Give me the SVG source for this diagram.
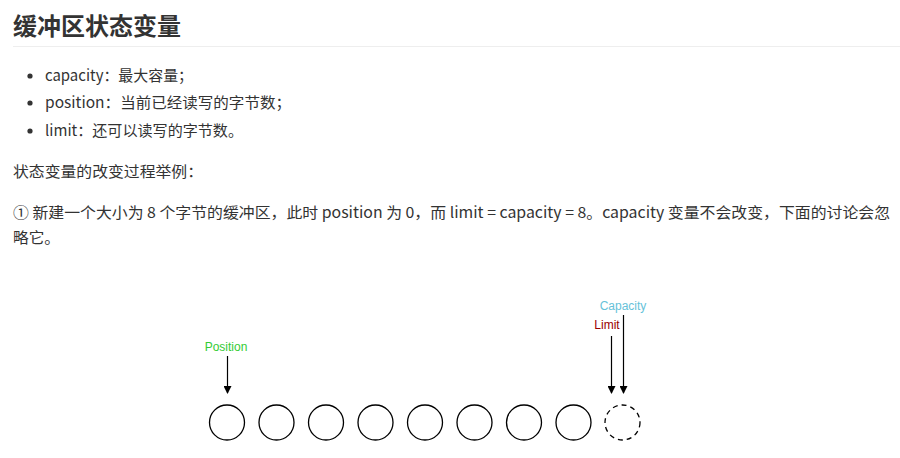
<svg xmlns="http://www.w3.org/2000/svg" width="900" height="458" viewBox="0 0 900 458">
<style>
.t{font-family:"Noto Sans CJK SC","Liberation Sans",sans-serif;font-size:15px;fill:#333}
.c{fill:#fff;stroke:#000;stroke-width:1.3}
.lbl{font-family:"Liberation Sans",sans-serif;font-size:12px;text-anchor:middle}
.ar{stroke:#000;stroke-width:1.2;marker-end:url(#ah)}
</style>
<defs><marker id="ah" markerWidth="8" markerHeight="8" refX="7" refY="4" orient="auto" markerUnits="userSpaceOnUse"><path d="M0,0 L8,4 L0,8 Z" fill="#000"/></marker></defs>
<rect width="900" height="458" fill="#fff"/>
<text x="13" y="35" textLength="168" lengthAdjust="spacingAndGlyphs" style="font-family:'Noto Sans CJK SC','Liberation Sans',sans-serif;font-size:24px;font-weight:bold;fill:#333">缓冲区状态变量</text>
<line x1="13" y1="46.5" x2="900" y2="46.5" stroke="#eee"/>
<circle cx="30" cy="76" r="2.6" fill="#333"/>
<circle cx="30" cy="103" r="2.6" fill="#333"/>
<circle cx="30" cy="131" r="2.6" fill="#333"/>
<text class="t" x="45" y="81" textLength="148" lengthAdjust="spacingAndGlyphs">capacity：最大容量；</text>
<text class="t" x="45" y="108" textLength="246" lengthAdjust="spacingAndGlyphs">position：当前已经读写的字节数；</text>
<text class="t" x="45" y="136" textLength="198" lengthAdjust="spacingAndGlyphs">limit：还可以读写的字节数。</text>
<text class="t" x="13" y="177" textLength="190" lengthAdjust="spacingAndGlyphs">状态变量的改变过程举例：</text>
<text class="t" x="13" y="218" textLength="877" lengthAdjust="spacingAndGlyphs">① 新建一个大小为 8 个字节的缓冲区，此时 position 为 0，而 limit = capacity = 8。capacity 变量不会改变，下面的讨论会忽</text>
<text class="t" x="13" y="243" textLength="47" lengthAdjust="spacingAndGlyphs">略它。</text>
<g id="cells">
<circle class="c" cx="227" cy="422.5" r="17.5"/>
<circle class="c" cx="276.5" cy="422.5" r="17.5"/>
<circle class="c" cx="326" cy="422.5" r="17.5"/>
<circle class="c" cx="375.5" cy="422.5" r="17.5"/>
<circle class="c" cx="425" cy="422.5" r="17.5"/>
<circle class="c" cx="474.5" cy="422.5" r="17.5"/>
<circle class="c" cx="524" cy="422.5" r="17.5"/>
<circle class="c" cx="573.5" cy="422.5" r="17.5"/>
<circle class="c" cx="622.5" cy="422.5" r="17.5" stroke-dasharray="5,4"/>
</g>
<g id="labels">
<text class="lbl" x="226" y="351" fill="#33cc33">Position</text>
<text class="lbl" x="607" y="329" fill="#990000">Limit</text>
<text class="lbl" x="623" y="310" fill="#66c2d9">Capacity</text>
</g>
<g id="connectors">
<line class="ar" x1="227.5" y1="356" x2="227.5" y2="393"/>
<line class="ar" x1="611.5" y1="336" x2="611.5" y2="393"/>
<line class="ar" x1="623.5" y1="315" x2="623.5" y2="393"/>
</g>
</svg>
